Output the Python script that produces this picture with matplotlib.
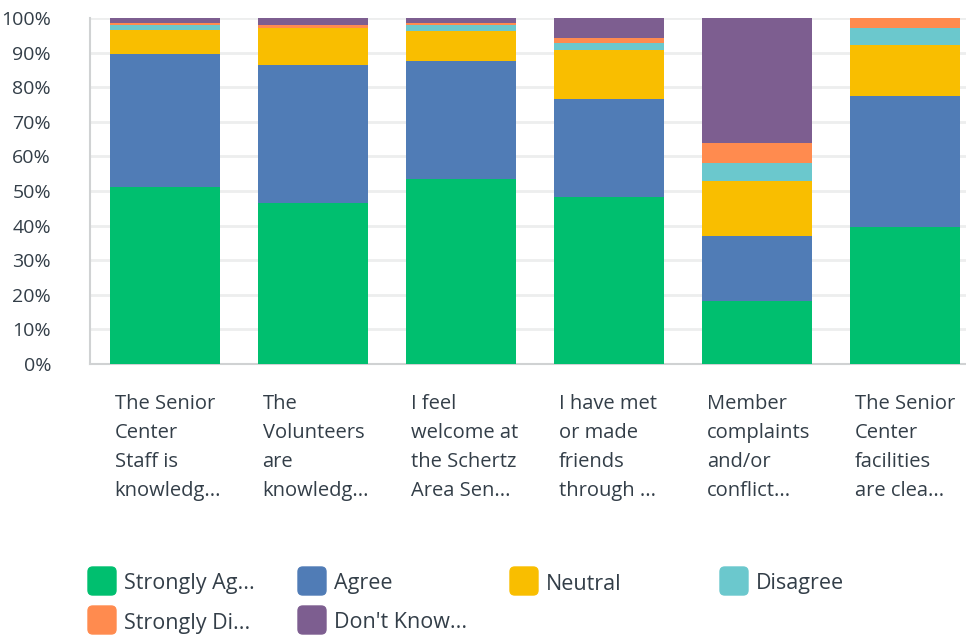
import matplotlib
matplotlib.use('Agg')
import matplotlib.pyplot as plt
import matplotlib.transforms as mtransforms
from matplotlib.patches import FancyBboxPatch
import numpy as np

# survey data (percent of respondents)
categories = [
    "The Senior\nCenter\nStaff is\nknowledg...",
    "The\nVolunteers\nare\nknowledg...",
    "I feel\nwelcome at\nthe Schertz\nArea Sen...",
    "I have met\nor made\nfriends\nthrough ...",
    "Member\ncomplaints\nand/or\nconflict...",
    "The Senior\nCenter\nfacilities\nare clea...",
]
series_names = ["Strongly Ag...", "Agree", "Neutral", "Disagree",
                "Strongly Di...", "Don't Know..."]
strongly_agree = [51.2, 46.5, 53.5, 48.3, 18.2, 39.6]
agree = [38.4, 39.9, 34.1, 28.3, 18.8, 37.9]
neutral = [6.9, 10.8, 8.6, 14.2, 15.9, 14.7]
disagree = [1.4, 0.0, 1.7, 1.9, 5.2, 5.0]
strongly_disagree = [0.7, 0.8, 0.7, 1.5, 5.8, 2.8]
dont_know = [1.4, 2.0, 1.4, 5.8, 36.1, 0.0]
yticks = [0, 10, 20, 30, 40, 50, 60, 70, 80, 90, 100]

colors = ['#00BF6F', '#507CB6', '#F9BE00', '#6BC8CD', '#FF8B4F', '#7D5E90']
text_color = '#333E48'
font = 'Open Sans'

fig = plt.figure(figsize=(9.66, 6.35), dpi=100)
ax = fig.add_axes([90 / 966, 1 - 364 / 635, 876 / 966, 346 / 635])

x = np.arange(len(categories))
width = 0.743
bottom = np.zeros(len(categories))
for vals, col in zip([strongly_agree, agree, neutral, disagree,
                      strongly_disagree, dont_know], colors):
    ax.bar(x, vals, width, bottom=bottom, color=col, linewidth=0, zorder=3)
    bottom += np.array(vals)

ax.set_xlim(-0.507, 5.41)
ax.set_ylim(0, 100)
ax.set_yticks(yticks)
ax.set_yticklabels([f'{v}%' for v in yticks], fontsize=14,
                   color=text_color, family=font)
ax.tick_params(axis='y', length=0, pad=28)
ax.tick_params(axis='x', length=0, labelbottom=False)
ax.grid(axis='y', color='#EDEEEE', linewidth=2, zorder=0)
for s in ['top', 'right']:
    ax.spines[s].set_visible(False)
ax.spines['left'].set_color('#D0D2D3')
ax.spines['bottom'].set_color('#D0D2D3')
ax.spines['left'].set_linewidth(1.5)
ax.spines['bottom'].set_linewidth(1.5)

# category labels, left aligned under bars
trans = mtransforms.blended_transform_factory(ax.transData, ax.transAxes)
for i, lab in enumerate(categories):
    ax.text(i - width / 2 + 0.03, -0.086, lab, transform=trans, ha='left',
            va='top', fontsize=14.5, color=text_color, family=font,
            linespacing=1.6)

# legend
legend_x = [88, 298, 510, 720]
legend_y = [581, 620]
for i, (name, col) in enumerate(zip(series_names, colors)):
    cx = legend_x[i % 4]
    cy = legend_y[i // 4]
    box = FancyBboxPatch((cx / 966, 1 - (cy + 14) / 635), 28 / 966, 28 / 635,
                         boxstyle='round,pad=0,rounding_size=0.005',
                         transform=fig.transFigure, color=col,
                         mutation_aspect=966 / 635)
    fig.patches.append(box)
    fig.text((cx + 36) / 966, 1 - (cy + 3) / 635, name, ha='left', va='center',
             fontsize=15.5, color=text_color, family=font)

fig.savefig('out.png', dpi=100)
